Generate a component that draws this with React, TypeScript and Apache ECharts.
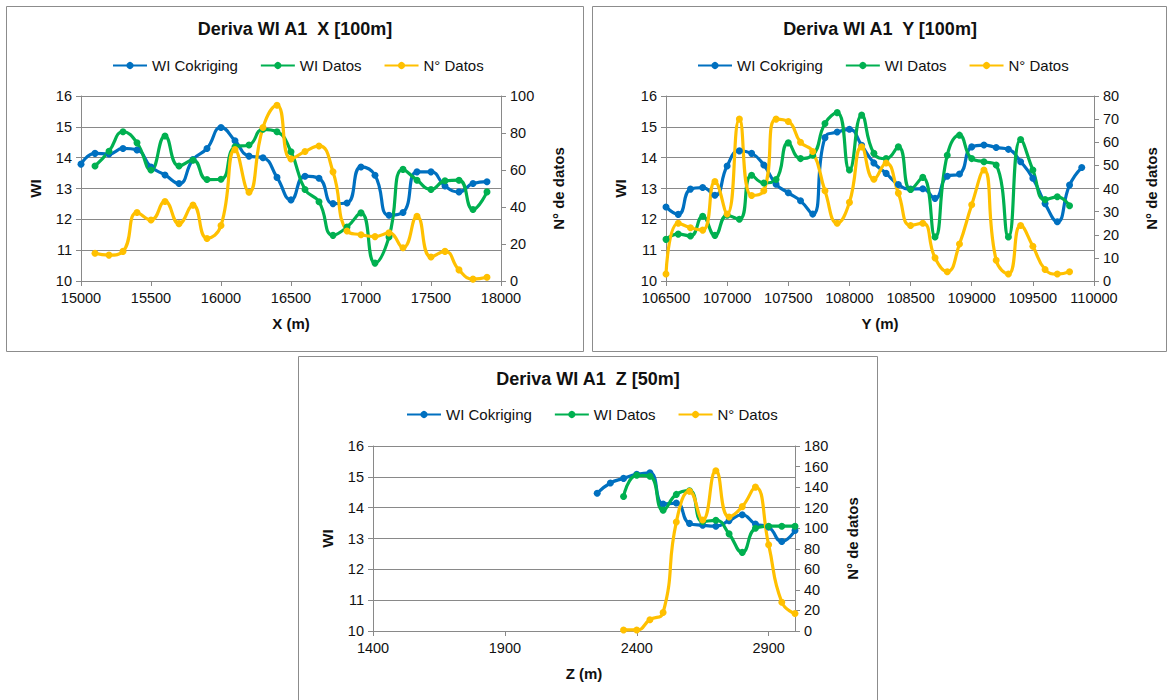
import React, { useEffect, useRef } from "react";
import * as echarts from "echarts";

const SERIES_NAMES = ["WI Cokriging", "WI Datos", "N° Datos"];
const COLORS = ["#0070C0", "#00B050", "#FFC000"];

const TITLES = ["Deriva WI A1  X [100m]", "Deriva WI A1  Y [100m]", "Deriva WI A1  Z [50m]"];
const X_NAMES = ["X (m)", "Y (m)", "Z (m)"];

// ---- Panel X ----
const xCokPos = [15000, 15100, 15200, 15300, 15400, 15500, 15600, 15700, 15800, 15900, 16000, 16100, 16200, 16300, 16400, 16500, 16600, 16700, 16800, 16900, 17000, 17100, 17200, 17300, 17400, 17500, 17600, 17700, 17800, 17900];
const xCokWI = [13.79, 14.14, 14.12, 14.3, 14.25, 13.7, 13.44, 13.16, 13.94, 14.3, 14.98, 14.55, 14.05, 14.0, 13.36, 12.63, 13.4, 13.33, 12.51, 12.53, 13.7, 13.43, 12.13, 12.22, 13.54, 13.54, 13.08, 12.89, 13.16, 13.22];
const xDatPos = [15100, 15200, 15300, 15400, 15500, 15600, 15700, 15800, 15900, 16000, 16100, 16200, 16300, 16400, 16500, 16600, 16700, 16800, 16900, 17000, 17100, 17200, 17300, 17400, 17500, 17600, 17700, 17800, 17900];
const xDatWI = [13.73, 14.21, 14.84, 14.48, 13.6, 14.7, 13.73, 13.92, 13.29, 13.3, 14.35, 14.41, 14.92, 14.84, 14.19, 12.97, 12.57, 11.48, 11.75, 12.21, 10.58, 11.43, 13.62, 13.27, 12.97, 13.25, 13.27, 12.32, 12.89];
const xDatN = [15, 14, 16, 37, 33, 43, 31, 41, 23, 30, 71, 48, 83, 95, 66, 70, 73, 59, 27, 25, 24, 26, 18, 35, 13, 16, 6, 1, 2];

// ---- Panel Y ----
const yCokPos = [106500, 106600, 106700, 106800, 106900, 107000, 107100, 107200, 107300, 107400, 107500, 107600, 107700, 107800, 107900, 108000, 108100, 108200, 108300, 108400, 108500, 108600, 108700, 108800, 108900, 109000, 109100, 109200, 109300, 109400, 109500, 109600, 109700, 109800, 109900];
const yCokWI = [12.4, 12.16, 12.98, 13.03, 12.78, 13.73, 14.22, 14.14, 13.76, 13.14, 12.86, 12.6, 12.17, 14.65, 14.83, 14.92, 14.4, 13.83, 13.49, 13.13, 12.98, 12.99, 12.68, 13.4, 13.47, 14.35, 14.41, 14.33, 14.27, 13.87, 13.33, 12.51, 11.92, 13.11, 13.68];
const yDatPos = [106500, 106600, 106700, 106800, 106900, 107000, 107100, 107200, 107300, 107400, 107500, 107600, 107700, 107800, 107900, 108000, 108100, 108200, 108300, 108400, 108500, 108600, 108700, 108800, 108900, 109000, 109100, 109200, 109300, 109400, 109500, 109600, 109700, 109800];
const yDatWI = [11.35, 11.52, 11.46, 12.1, 11.48, 12.13, 12.0, 13.43, 13.18, 13.29, 14.48, 13.97, 14.08, 15.11, 15.46, 13.6, 15.38, 14.14, 13.97, 14.35, 12.97, 13.36, 11.43, 14.08, 14.73, 13.97, 13.87, 13.76, 11.43, 14.59, 13.6, 12.64, 12.73, 12.44];
const yDatN = [3, 25, 23, 22, 43, 29, 70, 37, 39, 70, 69, 60, 56, 39, 25, 34, 58, 44, 51, 38, 24, 25, 10, 4, 16, 33, 48, 9, 3, 24, 15, 5, 3, 4];

// ---- Panel Z ----
const zCokPos = [2250, 2300, 2350, 2400, 2450, 2500, 2550, 2600, 2650, 2700, 2750, 2800, 2850, 2900, 2950, 3000];
const zCokWI = [14.47, 14.8, 14.95, 15.08, 15.13, 14.12, 14.15, 13.49, 13.43, 13.4, 13.58, 13.77, 13.47, 13.37, 12.9, 13.26];
const zDatPos = [2350, 2400, 2450, 2500, 2550, 2600, 2650, 2700, 2750, 2800, 2850, 2900, 2950, 3000];
const zDatWI = [14.36, 15.05, 15.02, 13.92, 14.43, 14.55, 13.55, 13.59, 13.15, 12.55, 13.33, 13.4, 13.4, 13.4];
const zDatN = [1, 1, 11, 18, 106, 136, 108, 156, 111, 121, 140, 84, 28, 17];

// axis ranges
const X_RANGES = [
  { min: 15000, max: 18000, interval: 500 },
  { min: 106500, max: 110000, interval: 500 },
  { min: 1400, max: 3000, interval: 500 },
];
const WI_RANGE = { min: 10, max: 16, interval: 1 };
const N_RANGES = [
  { min: 0, max: 100, interval: 20 },
  { min: 0, max: 80, interval: 10 },
  { min: 0, max: 180, interval: 20 },
];

const FONT = "Liberation Sans, Arial, sans-serif";
const AXIS_GRAY = "#898989";
const TEXT = "#111";

// layout (pixels)
const PANELS = [
  { box: [6, 6, 577, 345], grid: [81, 96, 420, 185], titleX: 295, titleY: 20, legendX: 112, legendY: 58 },
  { box: [592, 6, 574, 345], grid: [666, 96, 428, 185], titleX: 880, titleY: 20, legendX: 697, legendY: 58 },
  { box: [298, 356, 579, 360], grid: [373, 446, 422, 185], titleX: 588, titleY: 370, legendX: 406, legendY: 407 },
];

const pairs = (xs: number[], ys: number[]) => xs.map((x, i) => [x, ys[i]]);

export default function App() {
  const ref = useRef<HTMLDivElement>(null);

  useEffect(() => {
    if (!ref.current) return;
    const chart = echarts.init(ref.current, undefined, { renderer: "svg" });

    const panelData = [
      [pairs(xCokPos, xCokWI), pairs(xDatPos, xDatWI), pairs(xDatPos, xDatN)],
      [pairs(yCokPos, yCokWI), pairs(yDatPos, yDatWI), pairs(yDatPos, yDatN)],
      [pairs(zCokPos, zCokWI), pairs(zDatPos, zDatWI), pairs(zDatPos, zDatN)],
    ];

    const grids: any[] = [];
    const xAxes: any[] = [];
    const yAxes: any[] = [];
    const series: any[] = [];
    const titles: any[] = [];
    const legends: any[] = [];
    const graphics: any[] = [];

    PANELS.forEach((p, i) => {
      graphics.push({
        type: "rect",
        z: -10,
        shape: { x: p.box[0] + 0.5, y: p.box[1] + 0.5, width: p.box[2], height: p.box[3] },
        style: { fill: "#fff", stroke: "#8c8c8c", lineWidth: 1 },
        silent: true,
      });
      grids.push({ left: p.grid[0], top: p.grid[1], width: p.grid[2], height: p.grid[3], containLabel: false });
      const axisLine = { show: true, lineStyle: { color: AXIS_GRAY, width: 1 } };
      const axisTick = { show: true, inside: false, length: 5, lineStyle: { color: AXIS_GRAY } };
      xAxes.push({
        type: "value",
        gridIndex: i,
        ...X_RANGES[i],
        axisLine: { ...axisLine, onZero: false },
        axisTick,
        splitLine: { show: false },
        axisLabel: {
          color: TEXT,
          fontSize: 14.5,
          fontFamily: FONT,
          margin: 9,
          showMaxLabel: i !== 2,
          formatter: (v: number) => String(v),
        },
        name: X_NAMES[i],
        nameLocation: "middle",
        nameGap: 35,
        nameTextStyle: { color: TEXT, fontSize: 15, fontWeight: "bold", fontFamily: FONT },
      });
      yAxes.push({
        type: "value",
        gridIndex: i,
        position: "left",
        ...WI_RANGE,
        axisLine,
        axisTick,
        splitLine: { show: true, lineStyle: { color: AXIS_GRAY, width: 1 } },
        axisLabel: { color: TEXT, fontSize: 14.5, fontFamily: FONT, margin: 9 },
        name: "WI",
        nameLocation: "middle",
        nameGap: 38,
        nameTextStyle: { color: TEXT, fontSize: 15, fontWeight: "bold", fontFamily: FONT },
      });
      yAxes.push({
        type: "value",
        gridIndex: i,
        position: "right",
        ...N_RANGES[i],
        axisLine,
        axisTick,
        splitLine: { show: false },
        axisLabel: { color: TEXT, fontSize: 14.5, fontFamily: FONT, margin: 9 },
        name: "N° de datos",
        nameLocation: "middle",
        nameGap: 50,
        nameTextStyle: { color: TEXT, fontSize: 15, fontWeight: "bold", fontFamily: FONT },
      });
      const d = panelData[i];
      for (let s = 0; s < 3; s++) {
        series.push({
          type: "line",
          name: SERIES_NAMES[s],
          xAxisIndex: i,
          yAxisIndex: i * 2 + (s === 2 ? 1 : 0),
          data: d[s],
          smooth: 0.5,
          symbol: "circle",
          symbolSize: 7,
          showSymbol: true,
          lineStyle: { color: COLORS[s], width: 3.2 },
          itemStyle: { color: COLORS[s] },
        });
      }
      titles.push({
        text: TITLES[i],
        left: p.titleX,
        top: p.titleY,
        textAlign: "center",
        padding: 0,
        textStyle: { color: TEXT, fontSize: 18, fontWeight: "bold", fontFamily: FONT },
      });
      legends.push({
        data: SERIES_NAMES,
        left: p.legendX,
        top: p.legendY,
        orient: "horizontal",
        itemWidth: 34,
        itemHeight: 9,
        itemGap: 22,
        padding: 0,
        selectedMode: false,
        textStyle: { color: TEXT, fontSize: 15, fontFamily: FONT },
      });
    });

    chart.setOption({
      animation: false,
      backgroundColor: "#fff",
      title: titles,
      legend: legends,
      grid: grids,
      xAxis: xAxes,
      yAxis: yAxes,
      series,
      graphic: graphics,
    });

    return () => chart.dispose();
  }, []);

  return (
    <div
      ref={ref}
      style={{ position: "absolute", left: 0, top: 0, width: 1168, height: 700, background: "#fff" }}
    />
  );
}
